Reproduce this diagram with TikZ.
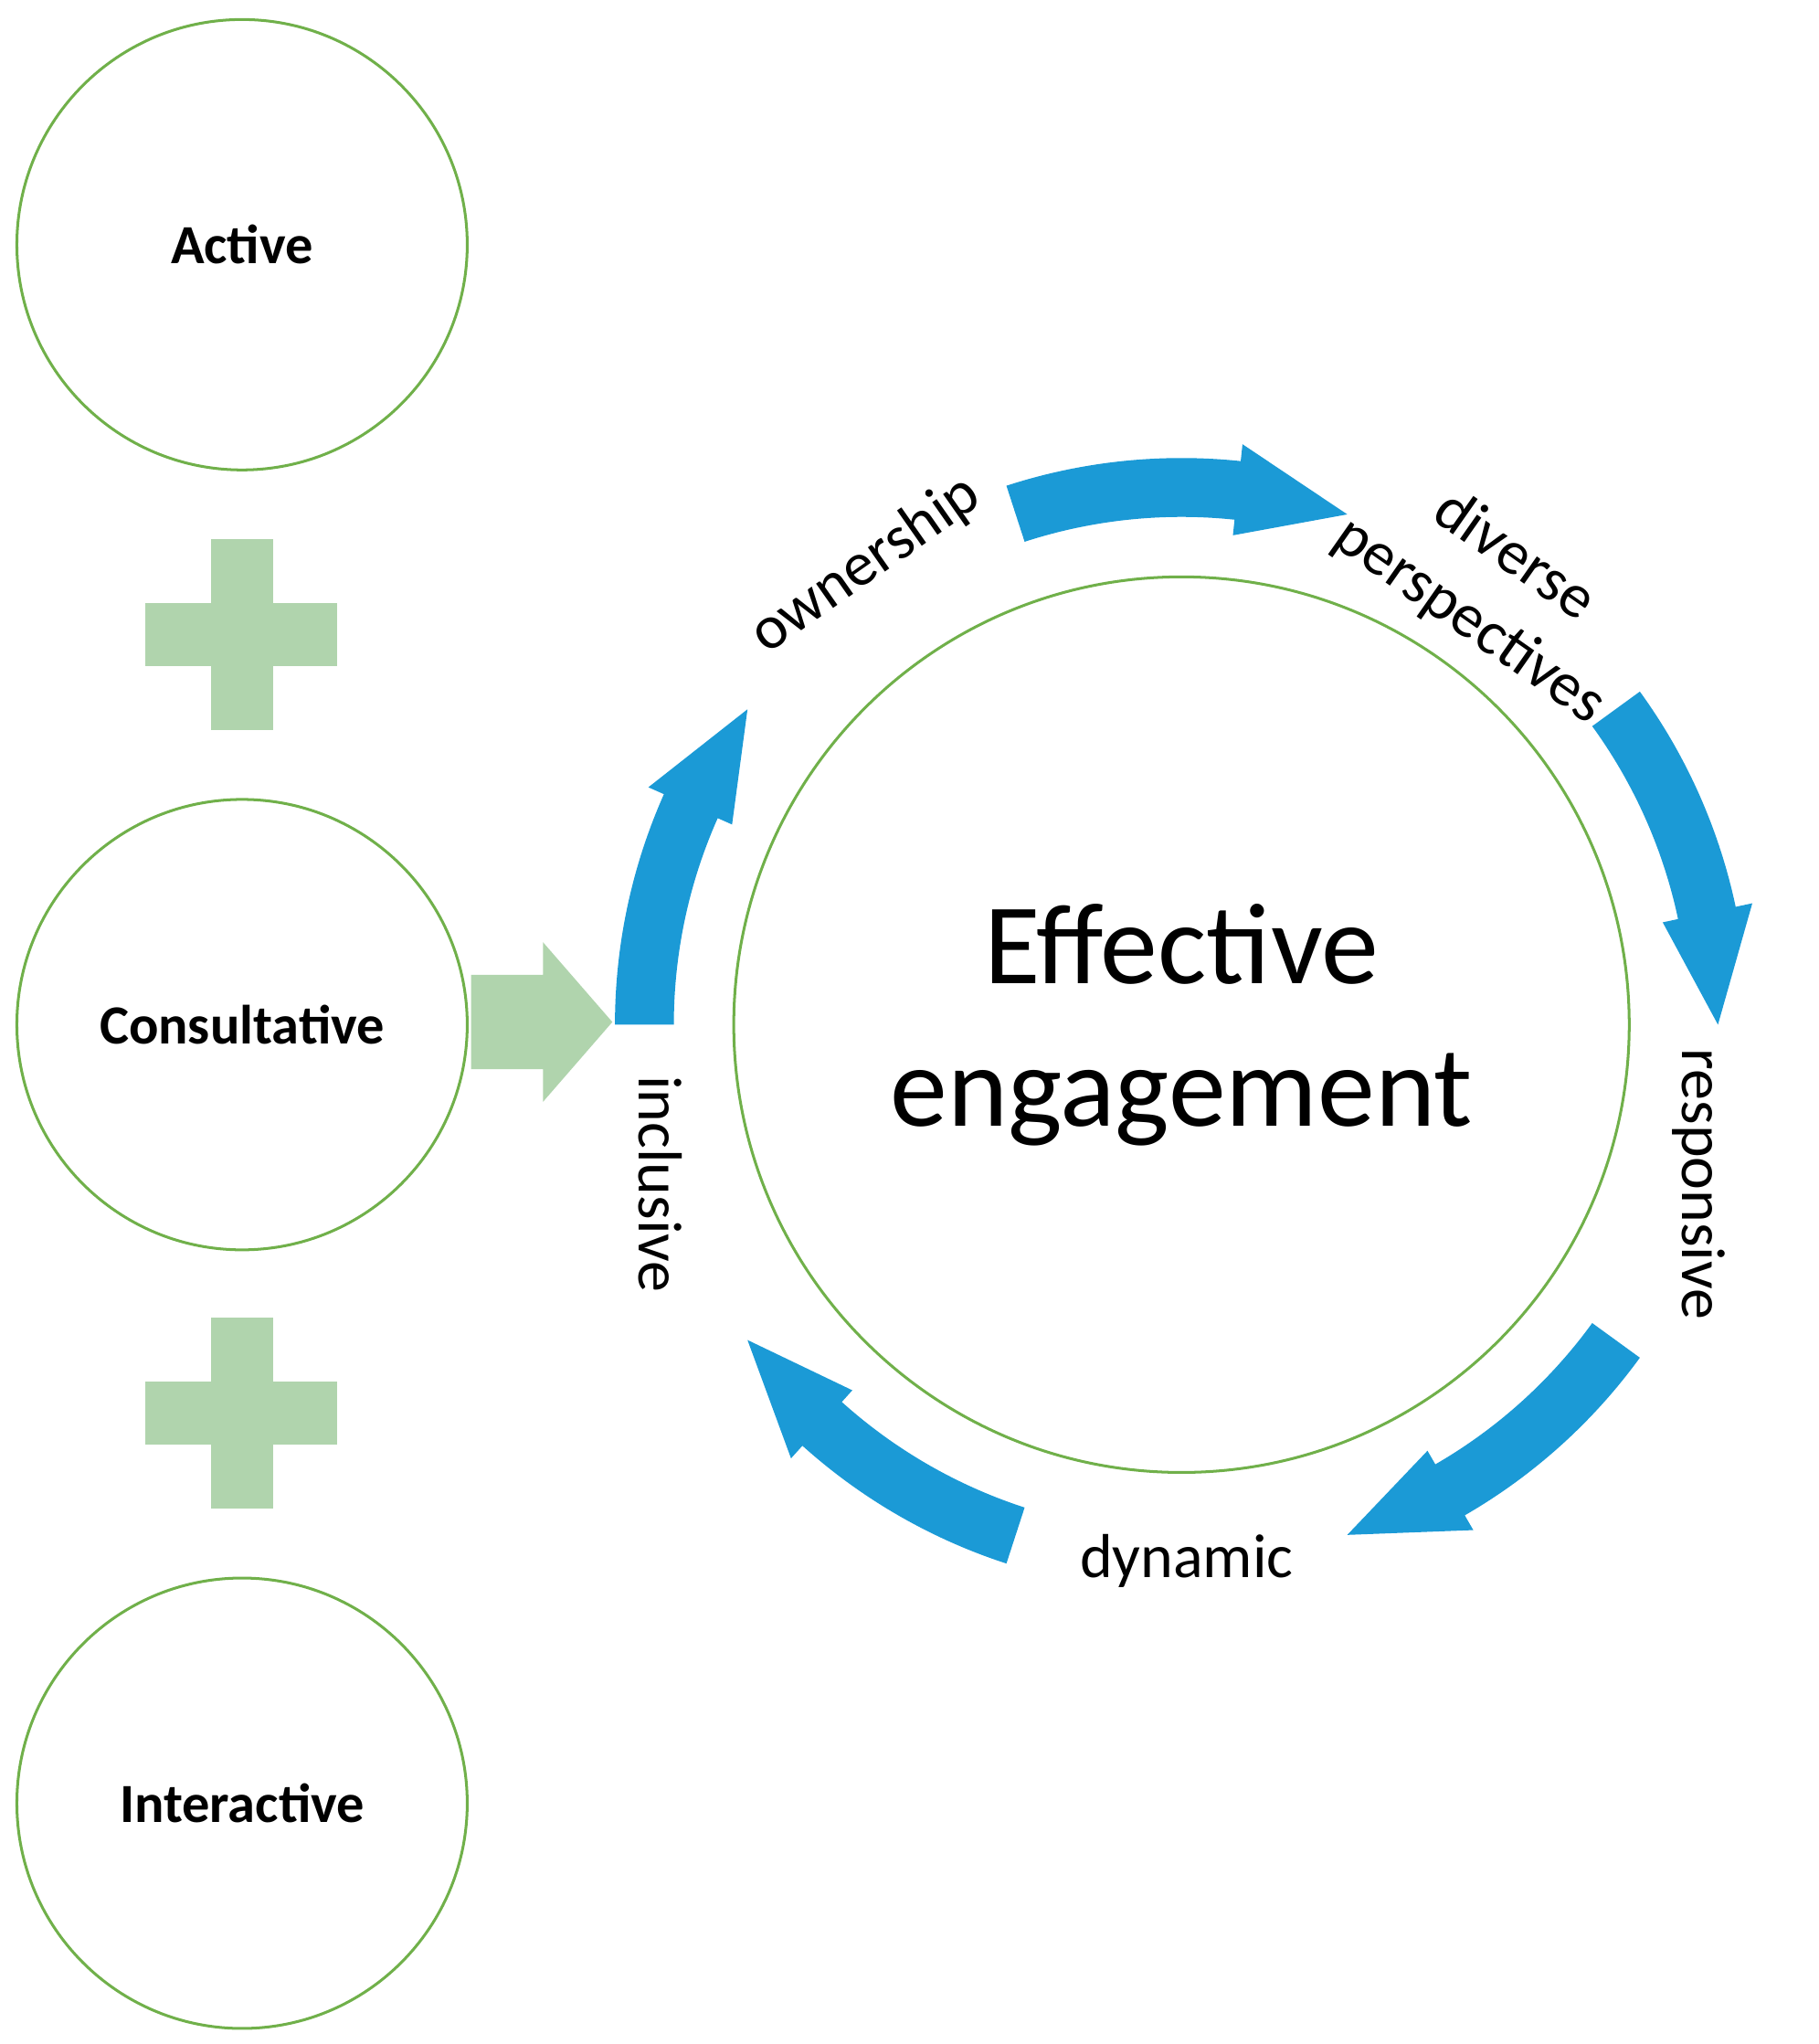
\documentclass[tikz,border=0pt]{standalone}
\usepackage{fontspec}
\setmainfont{Carlito}
\definecolor{ringgreen}{HTML}{70B04A}
\definecolor{plusgreen}{HTML}{B0D4AD}
\definecolor{cycleblue}{HTML}{1B9AD6}
\begin{document}
\begin{tikzpicture}[x=0.01cm,y=0.01cm,
  mode/.style={circle,draw=ringgreen,line width=0.6pt,minimum size=3.44cm,inner sep=0pt,font=\bfseries\fontsize{12}{14}\selectfont},
  plus/.style={fill=plusgreen},
  stage/.style={font=\fontsize{13.5}{17}\selectfont,align=center}]
\useasboundingbox (0,0) rectangle (1390,-1562);
\node[mode] (active) at (185,-187) {Active};
\node[mode] (consult) at (185,-783) {Consultative};
\node[mode] (inter) at (185,-1378) {Interactive};
\foreach \y in {-485,-1080}{
  \fill[plus] (161,\y-73) rectangle (209,\y+73);
  \fill[plus] (111,\y-24) rectangle (258,\y+24);
}
\node[circle,draw=ringgreen,line width=0.6pt,minimum size=6.84cm,inner sep=0pt,
  font=\fontsize{25}{31}\selectfont,align=center] (core) at (903,-783)
  {Effective\\engagement};
% feed arrow
\coordinate (tip) at (468,-781);
\fill[plusgreen,shift={(tip)}] (-108,36) -- (-53,36) -- (-53,61) -- (0,0)
  -- (-53,-61) -- (-53,-36) -- (-108,-36) -- cycle;
% cycle arrows
\begin{scope}[shift={(core.center)}]
\foreach \s in {180,108,36,-36,-108}{
  \pgfmathsetmacro\e{\s-36}
  \pgfmathsetmacro\m{\e+12}
  \fill[cycleblue] (\s:388) arc[start angle=\s,end angle=\m,radius=388]
    -- (\m:376) -- (\e:410) -- (\m:446) -- (\m:433)
    arc[start angle=\m,end angle=\s,radius=433] -- cycle;
}
\end{scope}
\node[stage,rotate=35] (own) at (662,-432) {ownership};
\node[stage,rotate=-35] (div) at (1140,-450) {diverse\\perspectives};
\node[stage,rotate=-90] (resp) at (1298,-905) {responsive};
\node[stage] (dyn) at (907,-1193) {dynamic};
\node[stage,rotate=-90] (incl) at (505,-905) {inclusive};
\end{tikzpicture}
\end{document}
